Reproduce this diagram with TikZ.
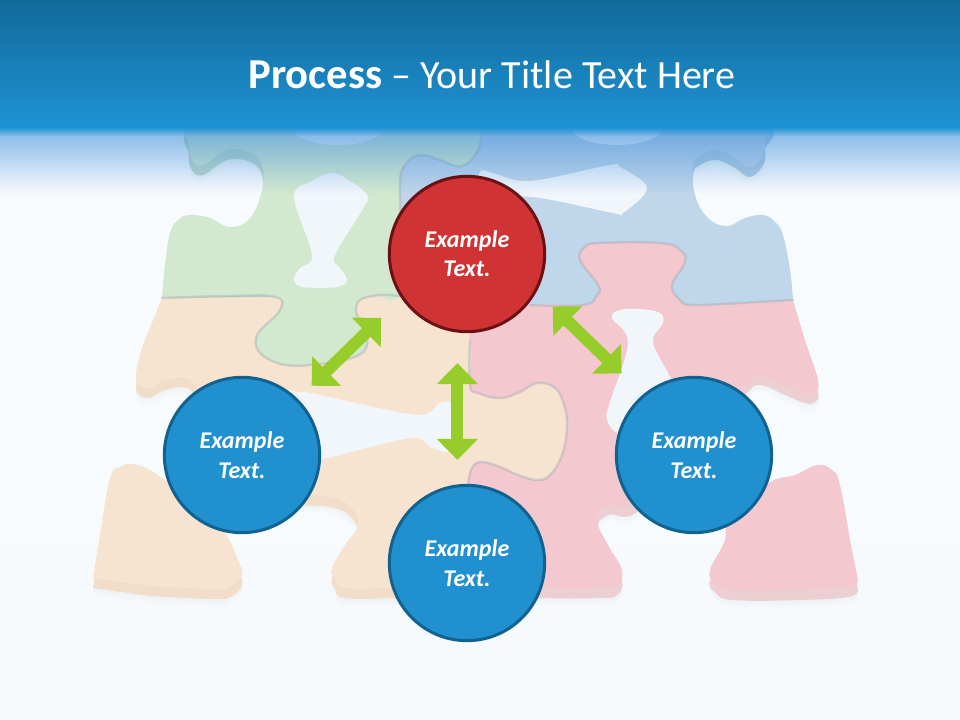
\documentclass[tikz,border=0pt]{standalone}
\usepackage{fontspec}
\setmainfont{Carlito}
\usetikzlibrary{arrows.meta,fadings}
\definecolor{bandtop}{HTML}{126A9B}
\definecolor{bandblue}{HTML}{1E93D4}
\definecolor{fadeblue}{HTML}{3F8FDC}
\definecolor{circblue}{HTML}{2190CF}
\definecolor{circedge}{HTML}{11628F}
\definecolor{circred}{HTML}{CF3333}
\definecolor{rededge}{HTML}{6B1116}
\definecolor{arrowgreen}{HTML}{97CD2B}
\definecolor{greenpc}{HTML}{D3E9CF}
\definecolor{bluepc}{HTML}{C0D6EA}
\definecolor{orangepc}{HTML}{F6E4D0}
\definecolor{pinkpc}{HTML}{F3C9CF}
\definecolor{greenlip}{HTML}{BFD9C6}
\definecolor{bluelip}{HTML}{B1CBDF}
\definecolor{orangelip}{HTML}{F2DDCA}
\definecolor{pinklip}{HTML}{ECCFD3}
\definecolor{seam}{HTML}{A8ACB6}
\definecolor{holefill}{HTML}{F1F6FB}
\definecolor{bgtop}{HTML}{F9FCFE}
\definecolor{bgbottom}{HTML}{F6FAFD}
\tikzfading[name=bandfade,top color=transparent!35,bottom color=transparent!100]
\tikzfading[name=bandedge,top color=transparent!0,bottom color=transparent!100]
% outlines of the puzzle pieces, in reference pixels
\def\greenshape{plot[smooth,tension=.7] coordinates {(162,298)(165,265)(170,233)(178,220)(190,215)(210,218)(230,227)(250,218)(262,190)(262,165)(250,152)(227,150)(203,165)(192,160)(189,145)(195,118)(300,110)(470,112)(482,130)(478,150)(462,166)(440,160)(420,155)(405,165)(400,185)(402,240)(400,296)(372,296)(356,308)(365,350)(310,365)(270,360)(256,338)(280,310)(275,297)(230,296)} -- cycle}
\def\blueshape{plot[smooth,tension=.7] coordinates {(793,300)(790,270)(783,235)(775,222)(763,215)(745,218)(727,226)(708,218)(695,195)(693,165)(700,155)(717,150)(735,158)(750,167)(763,155)(765,140)(758,115)(600,110)(400,112)(398,200)(420,290)(480,305)(530,305)(583,305)(597,295)(598,285)(580,260)(585,247)(600,243)(660,243)(680,250)(685,262)(672,285)(680,300)(693,305)(740,303)} -- cycle}
\def\pinkshape{plot[smooth,tension=.7] coordinates {(793,300)(805,340)(818,380)(815,392)(805,393)(785,385)(760,375)(745,385)(700,430)(640,500)(608,505)(597,520)(608,545)(622,570)(617,585)(600,588)(540,588)(500,585)(470,560)(466,450)(468,345)(480,320)(530,305)(583,305)(597,295)(598,285)(580,260)(585,247)(600,243)(660,243)(680,250)(685,262)(672,285)(680,300)(693,305)(740,303)} -- cycle}
\def\pinkblob{plot[smooth,tension=.7] coordinates {(858,580)(848,587)(800,590)(733,590)(715,582)(710,570)(725,540)(730,510)(770,482)(795,475)(817,465)(832,470)(840,485)(850,540)} -- cycle}
\def\orangeshape{plot[smooth,tension=.7] coordinates {(162,298)(275,297)(350,297)(400,296)(450,300)(470,340)(470,385)(478,393)(500,398)(520,392)(537,383)(555,388)(564,405)(567,427)(562,455)(550,475)(537,480)(518,475)(500,467)(482,462)(472,468)(468,485)(470,520)(450,588)(400,588)(345,588)(335,578)(332,568)(345,545)(358,525)(350,506)(330,497)(300,495)(280,490)(240,420)(200,390)(187,378)(165,380)(148,388)(136,378)(143,345)} -- cycle}
\def\orangeblob{plot[smooth,tension=.7] coordinates {(93,578)(100,535)(110,478)(120,467)(133,464)(150,470)(165,480)(200,500)(225,533)(238,560)(242,575)(230,587)(213,589)(150,586)} -- cycle}
\def\allshapes{\blueshape \pinkshape \pinkblob \orangeshape \orangeblob \greenshape}
\begin{document}
\begin{tikzpicture}[x=.75pt,y=-.75pt,
    seamline/.style={draw=seam,draw opacity=.45,line width=1.8pt,line cap=round},
    hole/.style={fill=holefill},
    bubble/.style={circle,minimum size=116.5pt,inner sep=0pt,line width=2.25pt,align=center,text=white,font=\fontsize{18}{22}\selectfont\bfseries\itshape},
    bluebubble/.style={bubble,fill=circblue,draw=circedge},
    redbubble/.style={bubble,fill=circred,draw=rededge},
    link/.style={arrowgreen,line width=9pt,{Triangle[length=15.75pt,width=30pt]}-{Triangle[length=15.75pt,width=30pt]}}]
    \useasboundingbox (0,0) rectangle (960,720);
    \shade[top color=bgtop,bottom color=bgbottom] (0,0) rectangle (960,720);
    % soft shadow, then the thick lower edge of the pieces
    \foreach \d in {-8.5pt,-10pt,-11.5pt,-13pt}
        \fill[black,opacity=.008,yshift=\d] \allshapes;
    \fill[orangelip,yshift=-7.5pt] \orangeshape \orangeblob;
    \fill[pinklip,yshift=-7.5pt] \pinkshape \pinkblob;
    \fill[bluelip,yshift=-7.5pt] \blueshape;
    \fill[greenlip,yshift=-7.5pt] \greenshape;
    % pieces
    \fill[bluepc] \blueshape;
    \fill[pinkpc] \pinkshape \pinkblob;
    \fill[orangepc] \orangeshape \orangeblob;
    \fill[greenpc] \greenshape;
    % seams between the pieces
    \draw[seamline] plot[smooth,tension=.7] coordinates {(162,298)(230,296)(275,297)(280,310)(256,338)(270,360)(310,365)(365,350)(356,308)(372,296)(400,296)};
    \draw[seamline] plot[smooth,tension=.7] coordinates {(482,130)(478,150)(462,166)(440,160)(420,155)(405,165)(400,185)(402,240)};
    \draw[seamline] plot[smooth,tension=.7] coordinates {(530,305)(583,305)(597,295)(598,285)(580,260)(585,247)(600,243)(660,243)(680,250)(685,262)(672,285)(680,300)(693,305)(740,303)(793,300)};
    \draw[seamline] plot[smooth,tension=.7] coordinates {(470,340)(470,385)(478,393)(500,398)(520,392)(537,383)(555,388)(564,405)(567,427)(562,455)(550,475)(537,480)(518,475)(500,467)(482,462)(472,468)(468,485)};
    % holes
    \fill[hole] plot[smooth cycle,tension=.6] coordinates {(332,173)(350,181)(367,195)(364,207)(335,255)(340,268)(347,280)(337,287)(303,287)(294,280)(300,268)(312,255)(294,197)(310,182)};
    \fill[hole] plot[smooth cycle,tension=.6] coordinates {(480,172)(493,173)(530,181)(610,165)(620,167)(647,188)(623,213)(613,213)(532,197)(480,200)};
    \fill[hole] plot[smooth cycle,tension=.6] coordinates {(612,318)(620,310)(640,309)(660,313)(663,323)(653,342)(670,377)(690,420)(640,440)(617,433)(607,420)(609,405)(628,343)};
    \fill[hole] plot[smooth cycle,tension=.5] coordinates {(270,395)(300,392)(320,395)(417,415)(440,403)(456,405)(458,440)(447,452)(430,447)(410,438)(320,460)(270,470)};
    \fill[hole] (338,128) ellipse (45 and 17);
    \fill[hole] (617,128) ellipse (45 and 17);
    % header band
    \fill[fadeblue,path fading=bandfade] (0,128) rectangle (960,194);
    \fill[bandblue,path fading=bandedge] (0,127) rectangle (960,136);
    \shade[top color=bandtop,bottom color=bandblue] (0,0) rectangle (960,128);
    \node[text=white,font=\fontsize{30}{36}\selectfont] (title) at (492,75) {{\fontsize{32}{36}\selectfont\bfseries Process} -- Your Title Text Here};
    % circles
    \node[redbubble] (redcirc) at (467,254) {Example\\Text.};
    \node[bluebubble] (leftcirc) at (242,455) {Example\\Text.};
    \node[bluebubble] (rightcirc) at (694,455) {Example\\Text.};
    \node[bluebubble] (lowcirc) at (467,563) {Example\\Text.};
    % arrows
    \draw[link,shorten <=21pt,shorten >=14.25pt] (redcirc.214) -- (leftcirc.45);
    \draw[link,shorten <=16.5pt,shorten >=22.5pt] (redcirc.332) -- (rightcirc.130);
    \draw[link,shorten <=22.9pt,shorten >=18.4pt] (redcirc.263) -- (redcirc.263 |- lowcirc.97);
\end{tikzpicture}
\end{document}
